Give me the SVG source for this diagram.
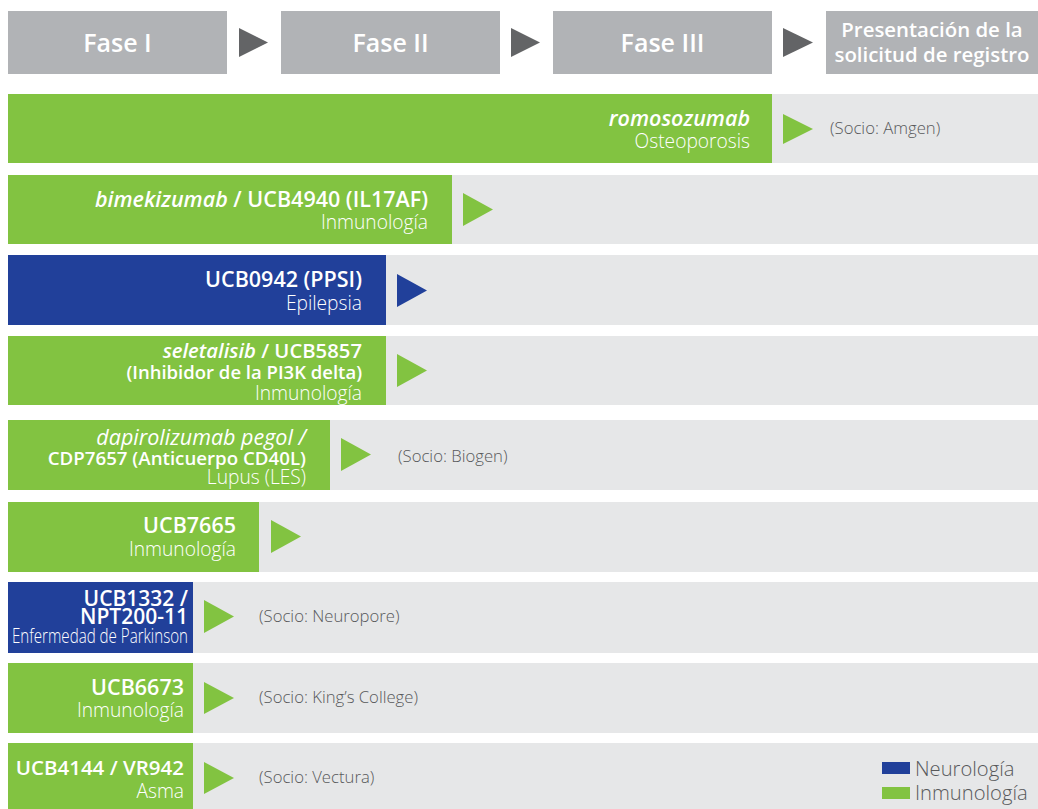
<svg xmlns="http://www.w3.org/2000/svg" width="1038" height="809" viewBox="0 0 1038 809">
<style>
text{font-family:"Open Sans","Liberation Sans",sans-serif}
.hdr{fill:#b1b3b6}
.hdrt{fill:#fff;font-size:25px;font-weight:600;text-anchor:middle}
.hdrs{fill:#fff;font-size:20.4px;font-weight:600;text-anchor:middle}
.harr{fill:#636466}
.bg{fill:#e6e7e8}
.g{fill:#82c341}
.b{fill:#21409a}
.t1{fill:#fff;font-size:21.5px;font-weight:600;text-anchor:end}
.t1s{fill:#fff;font-size:18.5px;font-weight:600;text-anchor:end}
.t2{fill:#fff;font-size:19.2px;font-weight:300;text-anchor:end}
.it{font-style:italic}
.p{fill:#58595b;font-size:16.7px;font-weight:300}
.leg{fill:#58595b;font-size:20.2px;font-weight:300}
</style>
<g id="header">
<g id="fase1"><rect class="hdr" x="8" y="11" width="219" height="63"/><text class="hdrt" x="117.5" y="52">Fase I</text></g>
<g id="fase2"><rect class="hdr" x="281" y="11" width="219" height="63"/><text class="hdrt" x="390.5" y="52">Fase II</text></g>
<g id="fase3"><rect class="hdr" x="553" y="11" width="219" height="63"/><text class="hdrt" x="662.5" y="52">Fase III</text></g>
<g id="registro"><rect class="hdr" x="826" y="11" width="212" height="63"/><text class="hdrs" x="932" y="37">Presentación de la</text><text class="hdrs" x="932" y="62">solicitud de registro</text></g>
</g>
<g id="connectors">
<polygon class="harr" points="239,28 268,42.5 239,57"/>
<polygon class="harr" points="511,28 540,42.5 511,57"/>
<polygon class="harr" points="783,28 813,42.5 783,57"/>
</g>
<g id="row1"><rect class="bg" x="8" y="94" width="1030" height="69"/><rect class="g" x="8" y="94" width="764" height="69"/>
<text class="t1 it" x="750" y="126">romosozumab</text><text class="t2" x="750" y="148">Osteoporosis</text>
<polygon class="g" points="783,114 813,129 783,144"/><text class="p" x="830" y="134">(Socio: Amgen)</text></g>
<g id="row2"><rect class="bg" x="8" y="175" width="1030" height="69"/><rect class="g" x="8" y="175" width="444" height="69"/>
<text class="t1" x="428" y="207"><tspan class="it">bimekizumab</tspan> / UCB4940 (IL17AF)</text><text class="t2" x="428" y="229">Inmunología</text>
<polygon class="g" points="463,193 493,209.5 463,226"/></g>
<g id="row3"><rect class="bg" x="8" y="255" width="1030" height="70"/><rect class="b" x="8" y="255" width="378" height="70"/>
<text class="t1" x="362" y="287">UCB0942 (PPSI)</text><text class="t2" x="362" y="310">Epilepsia</text>
<polygon class="b" points="397,274 427,290.5 397,307"/></g>
<g id="row4"><rect class="bg" x="8" y="336" width="1030" height="69"/><rect class="g" x="8" y="336" width="378" height="69"/>
<text class="t1s" x="362" y="358" style="font-size:20.3px"><tspan class="it">seletalisib</tspan> / UCB5857</text><text class="t1s" x="362" y="379">(Inhibidor de la PI3K delta)</text><text class="t2" x="362" y="400">Inmunología</text>
<polygon class="g" points="397,354 427,370.5 397,387"/></g>
<g id="row5"><rect class="bg" x="8" y="420" width="1030" height="70"/><rect class="g" x="8" y="420" width="322" height="70"/>
<text class="t1s it" x="306" y="445" style="font-weight:500;font-size:21.5px">dapirolizumab pegol /</text><text class="t1s" x="306" y="465" style="font-size:18.7px">CDP7657 (Anticuerpo CD40L)</text><text class="t2" x="306" y="484">Lupus (LES)</text>
<polygon class="g" points="341,438 371,454.5 341,471"/><text class="p" x="398" y="462">(Socio: Biogen)</text></g>
<g id="row6"><rect class="bg" x="8" y="502" width="1030" height="70"/><rect class="g" x="8" y="502" width="251" height="70"/>
<text class="t1" x="236" y="533">UCB7665</text><text class="t2" x="236" y="556">Inmunología</text>
<polygon class="g" points="271,520 301,536.5 271,553"/></g>
<g id="row7"><rect class="bg" x="8" y="582" width="1030" height="71"/><rect class="b" x="8" y="582" width="185" height="71"/>
<text class="t1" x="188" y="606" style="font-size:21px">UCB1332 /</text><text class="t1" x="188" y="624" style="font-size:21px">NPT200-11</text><text class="t2" x="188" y="643" textLength="176" lengthAdjust="spacingAndGlyphs">Enfermedad de Parkinson</text>
<polygon class="g" points="204,600 234,616.5 204,633"/><text class="p" x="259" y="622">(Socio: Neuropore)</text></g>
<g id="row8"><rect class="bg" x="8" y="663" width="1030" height="70"/><rect class="g" x="8" y="663" width="185" height="70"/>
<text class="t1" x="184" y="695">UCB6673</text><text class="t2" x="184" y="717">Inmunología</text>
<polygon class="g" points="204,682 234,698 204,714"/><text class="p" x="259" y="703">(Socio: King’s College)</text></g>
<g id="row9"><rect class="bg" x="8" y="743" width="1030" height="66"/><rect class="g" x="8" y="743" width="185" height="66"/>
<text class="t1" x="184" y="775" style="font-size:20.5px">UCB4144 / VR942</text><text class="t2" x="184" y="798">Asma</text>
<polygon class="g" points="204,762 234,778 204,794"/><text class="p" x="259" y="783">(Socio: Vectura)</text></g>
<g id="legend">
<rect class="b" x="882" y="762" width="28" height="12"/><text class="leg" x="915" y="776">Neurología</text>
<rect class="g" x="882" y="787" width="28" height="12"/><text class="leg" x="915" y="800">Inmunología</text>
</g>
</svg>
